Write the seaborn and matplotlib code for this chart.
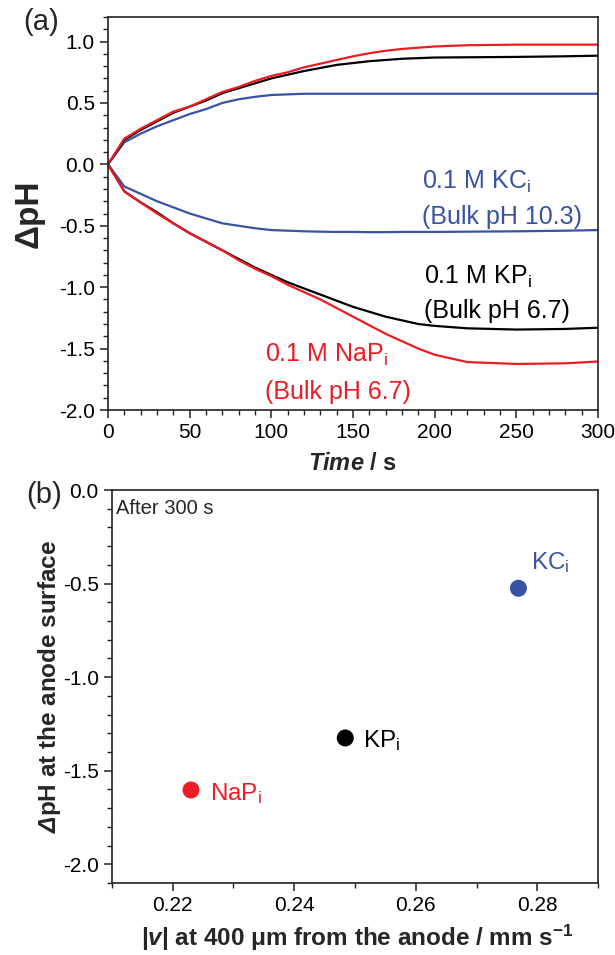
import numpy as np
import matplotlib
matplotlib.use("Agg")
import matplotlib.pyplot as plt
from matplotlib.ticker import MultipleLocator
import seaborn as sns

sns.set_style("ticks")
plt.rcParams['font.family'] = ['Liberation Sans', 'DejaVu Sans']
plt.rcParams['mathtext.fontset'] = 'custom'
plt.rcParams['mathtext.rm'] = 'Liberation Sans'
plt.rcParams['mathtext.it'] = 'Liberation Sans:italic'
plt.rcParams['mathtext.bf'] = 'Liberation Sans:bold'
plt.rcParams['mathtext.bfit'] = 'Liberation Sans:italic:bold'
plt.rcParams['mathtext.default'] = 'regular'

# time axis (s) for panel (a)
time_s = [0, 10, 20, 30, 40, 50, 60, 70, 80, 90, 100, 110, 120, 130, 140, 150,
          160, 170, 180, 190, 200, 220, 250, 280, 300]

# dpH at cathode side (positive) and anode side (negative)
napi_up = [0, 0.21, 0.29, 0.36, 0.43, 0.47, 0.53, 0.59, 0.63, 0.68, 0.72, 0.75, 0.79,
           0.82, 0.85, 0.88, 0.905, 0.925, 0.94, 0.95, 0.96, 0.97, 0.975, 0.975, 0.975]
kpi_up = [0, 0.20, 0.28, 0.35, 0.42, 0.47, 0.52, 0.58, 0.62, 0.66, 0.70, 0.73, 0.76,
          0.785, 0.81, 0.825, 0.84, 0.85, 0.86, 0.865, 0.87, 0.872, 0.875, 0.88, 0.885]
kci_up = [0, 0.18, 0.25, 0.31, 0.36, 0.41, 0.45, 0.50, 0.53, 0.55, 0.565, 0.57, 0.575,
          0.575, 0.575, 0.575, 0.575, 0.575, 0.575, 0.575, 0.575, 0.575, 0.575, 0.575, 0.575]
kci_down = [0, -0.18, -0.24, -0.30, -0.35, -0.40, -0.44, -0.48, -0.50, -0.52, -0.535,
            -0.54, -0.545, -0.548, -0.55, -0.55, -0.552, -0.552, -0.55, -0.55, -0.55,
            -0.548, -0.545, -0.54, -0.535]
kpi_down = [0, -0.22, -0.31, -0.39, -0.48, -0.56, -0.63, -0.70, -0.77, -0.84, -0.90,
            -0.96, -1.01, -1.06, -1.11, -1.16, -1.20, -1.24, -1.27, -1.30, -1.315,
            -1.335, -1.345, -1.34, -1.33]
napi_down = [0, -0.22, -0.31, -0.40, -0.48, -0.56, -0.63, -0.70, -0.78, -0.85, -0.91,
             -0.98, -1.04, -1.10, -1.17, -1.24, -1.31, -1.38, -1.44, -1.50, -1.55,
             -1.61, -1.625, -1.62, -1.605]

# panel (b): velocity vs anode dpH after 300 s
electrolytes = ['NaP$_{i}$', 'KP$_{i}$', 'KC$_{i}$']
velocity = [0.223, 0.2484, 0.2769]
dph_anode = [-1.603, -1.325, -0.525]

RED = '#ec1c24'
BLUE = '#3953a4'
BLACK = '#000000'
colors = [RED, BLACK, BLUE]

fig = plt.figure(figsize=(6.15, 9.55), dpi=100)
ax1 = fig.add_axes([108 / 615, 1 - 410 / 955, 490 / 615, 393 / 955])
ax2 = fig.add_axes([112 / 615, 1 - 883 / 955, 486 / 615, 393 / 955])

for up, down, c in [(kci_up, kci_down, BLUE), (kpi_up, kpi_down, BLACK),
                    (napi_up, napi_down, RED)]:
    sns.lineplot(x=time_s, y=up, color=c, lw=1.6, ax=ax1)
    sns.lineplot(x=time_s, y=down, color=c, lw=1.6, ax=ax1)

ax1.set_xlim(0, 300)
ax1.set_ylim(-2.0, 1.2)
ax1.xaxis.set_major_locator(MultipleLocator(50))
ax1.xaxis.set_minor_locator(MultipleLocator(10))
ax1.yaxis.set_major_locator(MultipleLocator(0.5))
ax1.yaxis.set_minor_locator(MultipleLocator(0.1))
ax1.yaxis.set_major_formatter(matplotlib.ticker.FormatStrFormatter('%.1f'))
ax1.set_xlabel(r'$\mathbfit{Time}$ / s', fontsize=17, fontweight='bold')
ax1.set_ylabel('ΔpH', fontsize=24, fontweight='bold')
ax1.xaxis.set_label_coords(0.5, -0.107)
ax1.yaxis.set_label_coords(-0.129, 0.5)

fs = 18
ax1.text(192, -0.14, '0.1 M KC$_{i}$', color=BLUE, fontsize=fs, va='center')
ax1.text(192, -0.43, '(Bulk pH 10.3)', color=BLUE, fontsize=fs, va='center')
ax1.text(193.5, -0.92, '0.1 M KP$_{i}$', color=BLACK, fontsize=fs, va='center')
ax1.text(193.5, -1.19, '(Bulk pH 6.7)', color=BLACK, fontsize=fs, va='center')
ax1.text(96, -1.55, '0.1 M NaP$_{i}$', color=RED, fontsize=fs, va='center')
ax1.text(96, -1.85, '(Bulk pH 6.7)', color=RED, fontsize=fs, va='center')

sns.scatterplot(x=velocity, y=dph_anode, hue=electrolytes, palette=colors,
                s=150, edgecolor='none', legend=False, ax=ax2, zorder=3)
offsets = [(0.0031, -0.017), (0.0029, -0.015), (0.0021, 0.135)]
for name, xv, yv, c, (dx, dy) in zip(electrolytes, velocity, dph_anode, colors, offsets):
    ax2.text(xv + dx, yv + dy, name, color=c, fontsize=17.5, va='center')
ax2.text(0.2107, -0.097, 'After 300 s', fontsize=14.5, va='center')

ax2.set_xlim(0.21, 0.29)
ax2.set_ylim(-2.1, 0.0)
ax2.xaxis.set_major_locator(MultipleLocator(0.02))
ax2.xaxis.set_minor_locator(MultipleLocator(0.01))
ax2.yaxis.set_major_locator(MultipleLocator(0.5))
ax2.yaxis.set_minor_locator(MultipleLocator(0.1))
ax2.yaxis.set_major_formatter(matplotlib.ticker.FormatStrFormatter('%.1f'))
ax2.set_xlabel(r'|$\mathbfit{v}$| at 400 μm from the anode / mm s$^{\mathbf{-1}}$',
               fontsize=17.5, fontweight='bold')
ax2.set_ylabel(r'$\mathbfit{\Delta}$pH at the anode surface', fontsize=17.5,
               fontweight='bold')
ax2.xaxis.set_label_coords(0.504, -0.10)
ax2.yaxis.set_label_coords(-0.101, 0.5)

for ax in (ax1, ax2):
    for sp in ax.spines.values():
        sp.set_linewidth(1.2)
        sp.set_color('#222222')
    ax.tick_params(which='major', direction='out', length=6, width=1.1,
                   labelsize=15, colors='#222222', labelcolor='black')
    ax.tick_params(which='minor', direction='out', length=3.5, width=1.0,
                   colors='#222222')

fig.text(41 / 615, 1 - 22 / 955, '(a)', fontsize=21, ha='center', va='center')
fig.text(44 / 615, 1 - 495 / 955, '(b)', fontsize=21, ha='center', va='center')

fig.savefig('out.png', dpi=100)
